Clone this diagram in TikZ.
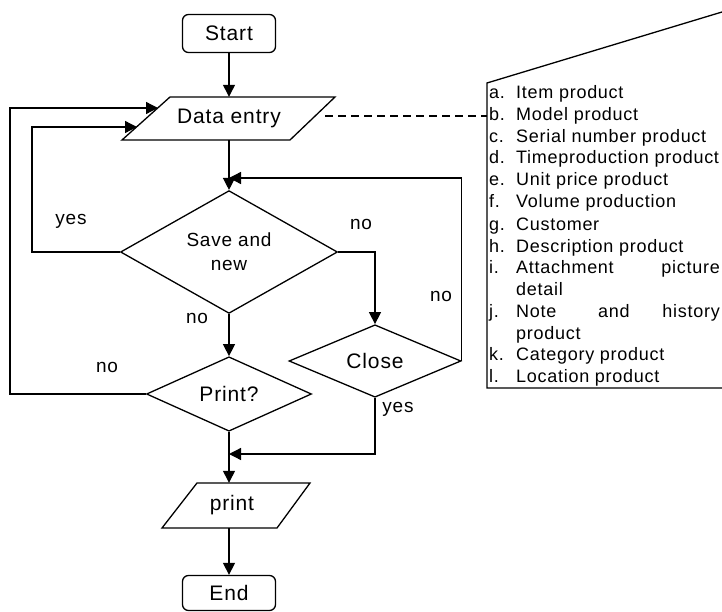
\documentclass[tikz,border=0pt]{standalone}
\usepackage{fontspec}
\setmainfont{Liberation Sans}[LetterSpace=4]
\usetikzlibrary{shapes.geometric,arrows.meta,calc}
\begin{document}
\begin{tikzpicture}[x=1pt,y=-1pt,
 ln/.style={line width=1.3pt},
 arr/.style={ln,-{Triangle[length=12pt,width=12pt]}},
 term/.style={draw,line width=1.3pt,rounded corners=6pt,minimum width=93pt,minimum height=38pt,inner sep=0pt,font=\fontsize{21}{25}\selectfont},
 io/.style={inner sep=0pt,font=\fontsize{21}{25}\selectfont},
 dec/.style={draw,line width=1.3pt,diamond,inner sep=0pt,align=center,font=\fontsize{21}{24}\selectfont},
 lab/.style={inner sep=0pt,font=\fontsize{19}{20}\selectfont},
 item/.style={anchor=base west,inner sep=0pt,font=\fontsize{18}{20}\selectfont},
 itemr/.style={anchor=base east,inner sep=0pt,font=\fontsize{18}{20}\selectfont}
]
\useasboundingbox (0,0) rectangle (722,612);
\clip (0,0) rectangle (722,612);

% main column
\node[term] (start) at (229,33.5) {Start};
\node[io,minimum height=43pt] (data) at (229,118.5) {Data entry};
\draw[ln] ($(data.center)+(-59,-21.5)$) -- ($(data.center)+(106,-21.5)$) -- ($(data.center)+(61,21.5)$) -- ($(data.center)+(-107,21.5)$) -- cycle;
\node[dec,minimum width=217pt,minimum height=81pt,font=\fontsize{19}{24}\selectfont] (save) at (229,252) {Save and\\new};
\node[dec,minimum width=165pt,minimum height=61pt] (printq) at (229,394) {Print?};
\node[dec,minimum width=172pt,minimum height=62pt] (close) at (375,361) {Close};
\node[io,minimum height=45pt] (print) at (229,505.5) {\hspace*{6pt}print};
\draw[ln] ($(print.center)+(-32,-22.5)$) -- ($(print.center)+(81,-22.5)$) -- ($(print.center)+(48,22.5)$) -- ($(print.center)+(-67,22.5)$) -- cycle;
\node[term,minimum height=35pt] (end) at (229,593) {End};

\coordinate (dinA) at (158,108);
\coordinate (dinB) at (137,127);
\coordinate (j1) at (229,178);
\coordinate (j2) at (229,454);

\draw[arr] (start.south) -- (data.north);
\draw[arr] (data.south) -- (save.north);
\draw[arr] (save.south) -- (printq.north);
\draw[arr] (printq.south) -- (print.north);
\draw[arr] (print.south) -- (end.north);
\draw[arr] (save.east) -| (close.north);
\draw[arr] (close.east) |- (j1);
\draw[arr] (close.south) |- (j2);
\draw[arr] (save.west) -- ++(-88,0) |- (dinB);
\draw[arr] (printq.west) -- ++(-136,0) |- (dinA);

% labels
\node[lab] (lyes1) at (71,221) {yes};
\node[lab] (lno1) at (361,224) {no};
\node[lab] (lno2) at (441,296) {no};
\node[lab] (lno3) at (197,318) {no};
\node[lab] (lno4) at (107,367) {no};
\node[lab] (lyes2) at (398,409) {yes};

% annotation box
\draw[ln] (722,12) -- (487,83) -- (487,388) -- (722,388);
\coordinate (dstart) at (325,116);
\coordinate (dend) at (487,116);
\draw[ln,dash pattern=on 8pt off 5pt] (dstart) -- (dend);

\node[item] (L1) at (489,99) {a.};   \node[item] (T1) at (516,99) {Item product};
\node[item] (L2) at (489,121) {b.};  \node[item] (T2) at (516,121) {Model product};
\node[item] (L3) at (489,143) {c.};  \node[item] (T3) at (516,143) {Serial number product};
\node[item] (L4) at (489,164) {d.};  \node[item] (T4) at (516,164) {Timeproduction product};
\node[item] (L5) at (489,186) {e.};  \node[item] (T5) at (516,186) {Unit price product};
\node[item] (L6) at (489,208) {f.};  \node[item] (T6) at (516,208) {Volume production};
\node[item] (L7) at (489,230) {g.};  \node[item] (T7) at (516,230) {Customer};
\node[item] (L8) at (489,252) {h.};  \node[item] (T8) at (516,252) {Description product};
\node[item] (L9) at (489,273) {i.};  \node[item] (T9) at (516,273) {Attachment};
\node[itemr] (T9b) at (720,273) {picture};
\node[item] (T9c) at (516,295) {detail};
\node[item] (L10) at (489,317) {j.}; \node[item] (T10) at (516,317) {Note};
\node[item] (T10b) at (598,317) {and};
\node[itemr] (T10c) at (720,317) {history};
\node[item] (T10d) at (516,339) {product};
\node[item] (L11) at (489,360) {k.}; \node[item] (T11) at (516,360) {Category product};
\node[item] (L12) at (489,382) {l.}; \node[item] (T12) at (516,382) {Location product};
\end{tikzpicture}
\end{document}
